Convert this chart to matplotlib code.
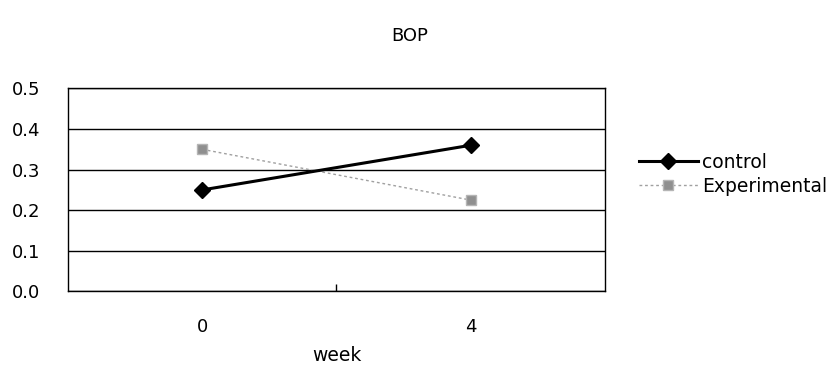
import matplotlib.pyplot as plt
from matplotlib.ticker import FormatStrFormatter, FixedLocator

plt.rcParams['font.family'] = ['DejaVu Sans']

weeks = ['0', '4']
control = [0.25, 0.36]
experimental = [0.35, 0.225]
y_ticks = [0.0, 0.1, 0.2, 0.3, 0.4, 0.5]

fig = plt.figure(figsize=(8.4, 3.67), dpi=100)
ax = fig.add_axes([0.081, 0.206, 0.639, 0.553])

x = range(len(weeks))
ax.plot(x, control, color='black', lw=2.2, marker='D', markersize=8.5,
        label='control', zorder=4)
ax.plot(x, experimental, color='#a0a0a0', lw=1.0, ls=(0, (2, 2)),
        marker='s', markersize=7.5, markerfacecolor='#8f8f8f',
        markeredgecolor='#b5b5b5', label='Experimental', zorder=3)

ax.set_xlim(-0.5, 1.5)
ax.set_ylim(0, 0.5)
ax.set_yticks(y_ticks)
ax.yaxis.set_major_formatter(FormatStrFormatter('%.1f'))
ax.yaxis.grid(True, color='black', lw=1.0)
ax.set_axisbelow(True)

ax.set_xticks(list(x))
ax.set_xticklabels(weeks)
ax.xaxis.set_minor_locator(FixedLocator([0.5]))
ax.tick_params(axis='x', which='major', length=0, pad=19, labelsize=13)
ax.tick_params(axis='x', which='minor', direction='in', length=5, width=1)
ax.tick_params(axis='y', length=0, pad=20, labelsize=13)

for s in ax.spines.values():
    s.set_color('black')
    s.set_linewidth(1.0)

ax.set_xlabel('week', fontsize=13.5, labelpad=7)
fig.text(410 / 840, 1 - 36 / 367, 'BOP', ha='center', va='center', fontsize=13)

fig.legend(loc='center left', bbox_to_anchor=(630 / 840, 0.525), frameon=False,
           fontsize=13.5, handlelength=3.1, handletextpad=0.25, borderpad=0,
           labelspacing=0.25)

fig.savefig('out.png', dpi=100)
